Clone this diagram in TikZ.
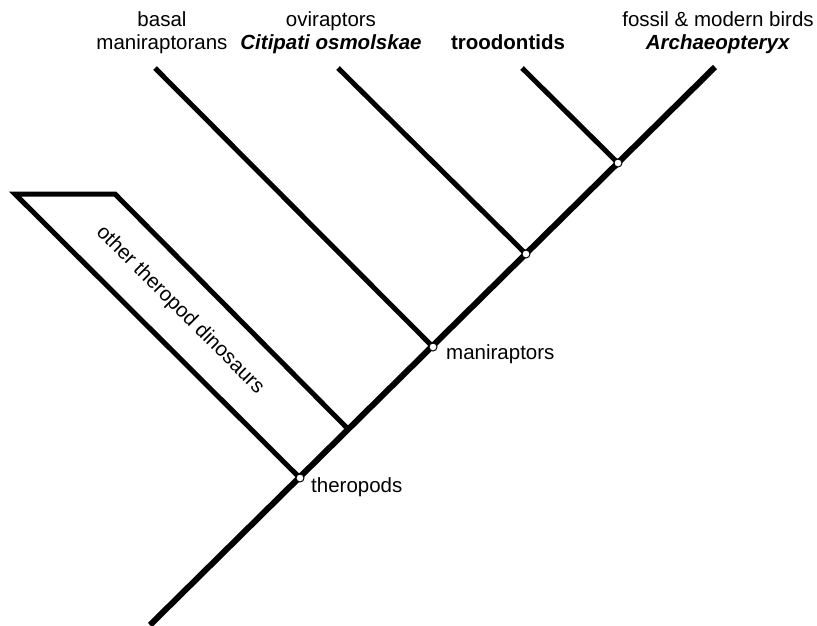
\documentclass[tikz,border=0pt]{standalone}
\usepackage{fontspec}
\setmainfont{Liberation Sans}
\tikzset{
  trunk/.style={line width=6pt},
  branch/.style={line width=5pt},
  split/.style={circle, draw=black, line width=1pt, fill=white, inner sep=0pt, minimum size=8pt},
  clade/.style={font=\fontsize{20.5}{23}\selectfont, align=center, inner sep=1pt}
}
\begin{document}
\begin{tikzpicture}[x=1pt,y=-1pt]
        \useasboundingbox (0,0) rectangle (817,625);

        % Branch points
        \coordinate (root) at (150,625);
        \coordinate (thero) at (300,478);
        \coordinate (fork) at (349,430);
        \coordinate (mani) at (433,347);
        \coordinate (ovi) at (526,254);
        \coordinate (troo) at (618,163);
        \coordinate (birdtip) at (715,67);

        % Tips
        \coordinate (otherL) at (15,194);
        \coordinate (otherR) at (115,194);
        \coordinate (basaltip) at (155,68);
        \coordinate (ovitip) at (338,68);
        \coordinate (trootip) at (522,68);

        % Trunk
        \draw[trunk] (root) -- (birdtip);

        % Branches
        \draw[branch] (thero) -- (otherL) -- (otherR) -- (fork);
        \draw[branch] (mani) -- (basaltip);
        \draw[branch] (ovi) -- (ovitip);
        \draw[branch] (troo) -- (trootip);

        % Dots
        \foreach \n in {thero,mani,ovi,troo} {
                \node[split] at (\n) {};
                }

        % Titles
        \node[clade] (basal) at (162,33) {basal\\maniraptorans};
        \node[clade] (oviname) at (331,33) {oviraptors\\\textbf{\textit{Citipati osmolskae}}};
        \node[clade, anchor=base] (trooname) at (508,49) {\textbf{troodontids}};
        \node[clade] (birdname) at (718,33) {fossil \& modern birds\\\textbf{\textit{Archaeopteryx}}};
        \node[clade, rotate=-45] (other) at (180,310) {other theropod dinosaurs};
        \node[clade, right] (maniname) at (445,354) {maniraptors};
        \node[clade, right] (theroname) at (310,487) {theropods};
\end{tikzpicture}
\end{document}
